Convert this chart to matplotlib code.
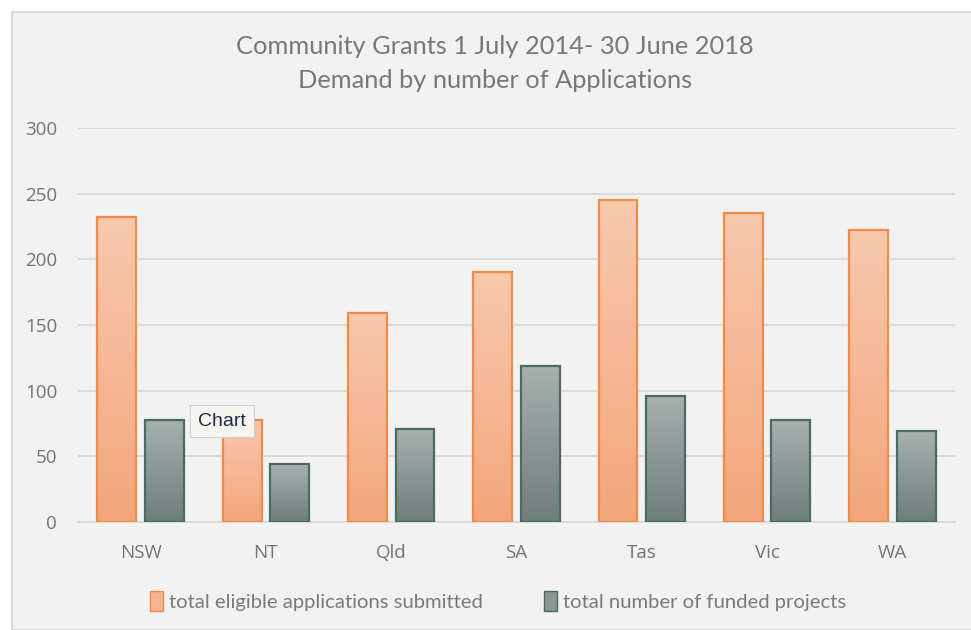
import numpy as np
import matplotlib
matplotlib.use('Agg')
import matplotlib.pyplot as plt
from matplotlib.colors import LinearSegmentedColormap
from matplotlib.patches import Rectangle, Patch

plt.rcParams['font.family'] = ['Lato', 'DejaVu Sans']

states = ['NSW', 'NT', 'Qld', 'SA', 'Tas', 'Vic', 'WA']
submitted = [232, 78, 159, 190, 245, 235, 222]
funded = [78, 44, 71, 119, 96, 78, 69]
series_names = ['total eligible applications submitted',
                'total number of funded projects']

orange_cmap = LinearSegmentedColormap.from_list('o', ['#f3a67c', '#f8c8ad'])
teal_cmap = LinearSegmentedColormap.from_list('t', ['#6d7f7b', '#a7b1af'])

fig = plt.figure(figsize=(9.71, 6.3), dpi=100)
fig.patch.set_facecolor('white')
# chart area background with thin border
fig.patches.append(Rectangle((12 / 971, 0), 1.0, 1 - 12 / 630, transform=fig.transFigure,
                             facecolor='#f2f2f2', edgecolor='#d4d4d4', lw=1.2, zorder=-5))

ax = fig.add_axes([78 / 971, 1 - 522 / 630, 877 / 971, 394 / 630])
ax.set_facecolor('none')
ax.set_zorder(1)

x = np.arange(len(states))
w = 0.31
gap = 0.07
off = (w + gap) / 2

def gradient_bars(xpos, vals, cmap, edge):
    bars = ax.bar(xpos, vals, w, facecolor='none', edgecolor=edge, lw=1.6, zorder=3)
    grad = np.linspace(0, 1, 256).reshape(-1, 1)
    for b in bars:
        x0, y0 = b.get_x(), b.get_y()
        ax.imshow(grad, extent=[x0, x0 + b.get_width(), y0, y0 + b.get_height()],
                  origin='lower', cmap=cmap, aspect='auto', zorder=2)
    return bars

gradient_bars(x - off, submitted, orange_cmap, '#ee8c48')
gradient_bars(x + off, funded, teal_cmap, '#4b6a63')

ax.set_xlim(-0.5, len(states) - 0.5)
ax.set_ylim(0, 300)
ax.set_yticks(range(0, 301, 50))
ax.yaxis.grid(True, color='#d9d9d9', lw=1.3)
ax.set_axisbelow(True)
for s in ['left', 'right', 'top']:
    ax.spines[s].set_visible(False)
ax.spines['bottom'].set_color('#d9d9d9')
ax.spines['bottom'].set_linewidth(1.3)
ax.tick_params(length=0, colors='#747474', labelsize=13.5)
ax.tick_params(axis='y', pad=15)
ax.tick_params(axis='x', pad=16)
ax.set_xticks(x)
ax.set_xticklabels(states)
for lab in ax.get_xticklabels() + ax.get_yticklabels():
    lab.set_family(['Open Sans', 'DejaVu Sans'])

fig.text(0.51, 1 - 47 / 630, 'Community Grants 1 July 2014- 30 June 2018',
         ha='center', va='center', fontsize=18.3, color='#787878')
fig.text(0.51, 1 - 81 / 630, 'Demand by number of Applications',
         ha='center', va='center', fontsize=18.3, color='#787878')

handles = [Patch(facecolor='#f5b592', edgecolor='#ee8c48'),
           Patch(facecolor='#8b9996', edgecolor='#4b6a63')]
ax.legend(handles, series_names, loc='center', bbox_to_anchor=(0.513, 1 - 601 / 630),
          bbox_transform=fig.transFigure, ncol=2, frameon=False, fontsize=14.6,
          labelcolor='#7a7a7a', handlelength=0.65, handleheight=1.1, handletextpad=0.3,
          columnspacing=3.0)

# tooltip visible in the screenshot
fig.text(222 / 971, 1 - 421 / 630, 'Chart', ha='center', va='center', fontsize=14,
         color='#1f2a44', zorder=10, family=['Liberation Sans', 'DejaVu Sans'],
         bbox=dict(boxstyle='square,pad=0.4', facecolor='#f6f6f1', edgecolor='#cfcfcf', lw=0.8))

fig.savefig('out.png', dpi=100)
